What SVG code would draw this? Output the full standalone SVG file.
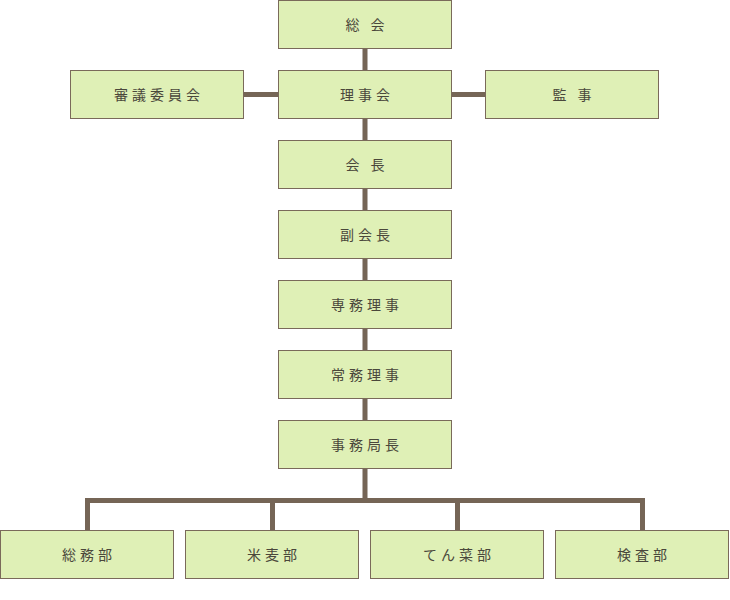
<svg xmlns="http://www.w3.org/2000/svg" width="730" height="600" viewBox="0 0 730 600">
<style>
.box{fill:#dff0b6;stroke:#7a6a5a;stroke-width:1}
.t{font-family:"Noto Sans CJK JP","Noto Sans CJK SC",sans-serif;font-size:14px;fill:#4a473b;text-anchor:middle;letter-spacing:4px}
.ln{stroke:#756556;stroke-width:5;fill:none}
</style>
<rect width="730" height="600" fill="#ffffff"/>
<g id="connectors">
<line class="ln" x1="365" y1="49" x2="365" y2="500"/>
<line class="ln" x1="244" y1="94.5" x2="278" y2="94.5"/>
<line class="ln" x1="452" y1="94.5" x2="485" y2="94.5"/>
<polyline class="ln" points="87.5,530 87.5,500.5 642.5,500.5 642.5,530"/>
<line class="ln" x1="272.5" y1="500" x2="272.5" y2="530"/>
<line class="ln" x1="457.5" y1="500" x2="457.5" y2="530"/>
</g>
<g id="n-soukai"><rect class="box" x="278.5" y="0.5" width="173" height="48"/><text class="t" x="367" y="29.5">総 会</text></g>
<g id="n-shingi"><rect class="box" x="70.5" y="70.5" width="173" height="48"/><text class="t" x="159" y="99.5">審議委員会</text></g>
<g id="n-rijikai"><rect class="box" x="278.5" y="70.5" width="173" height="48"/><text class="t" x="367" y="99.5">理事会</text></g>
<g id="n-kanji"><rect class="box" x="485.5" y="70.5" width="173" height="48"/><text class="t" x="574" y="99.5">監 事</text></g>
<g id="n-kaicho"><rect class="box" x="278.5" y="140.5" width="173" height="48"/><text class="t" x="367" y="169.5">会 長</text></g>
<g id="n-fukukaicho"><rect class="box" x="278.5" y="210.5" width="173" height="48"/><text class="t" x="367" y="239.5">副会長</text></g>
<g id="n-senmu"><rect class="box" x="278.5" y="280.5" width="173" height="48"/><text class="t" x="367" y="309.5">専務理事</text></g>
<g id="n-jomu"><rect class="box" x="278.5" y="350.5" width="173" height="48"/><text class="t" x="367" y="379.5">常務理事</text></g>
<g id="n-jimukyokucho"><rect class="box" x="278.5" y="420.5" width="173" height="48"/><text class="t" x="367" y="449.5">事務局長</text></g>
<g id="n-somubu"><rect class="box" x="0.5" y="530.5" width="173" height="48"/><text class="t" x="89" y="559.5">総務部</text></g>
<g id="n-beibakubu"><rect class="box" x="185.5" y="530.5" width="173" height="48"/><text class="t" x="274" y="559.5">米麦部</text></g>
<g id="n-tensaibu"><rect class="box" x="370.5" y="530.5" width="173" height="48"/><text class="t" x="459" y="559.5">てん菜部</text></g>
<g id="n-kensabu"><rect class="box" x="555.5" y="530.5" width="173" height="48"/><text class="t" x="644" y="559.5">検査部</text></g>
</svg>
